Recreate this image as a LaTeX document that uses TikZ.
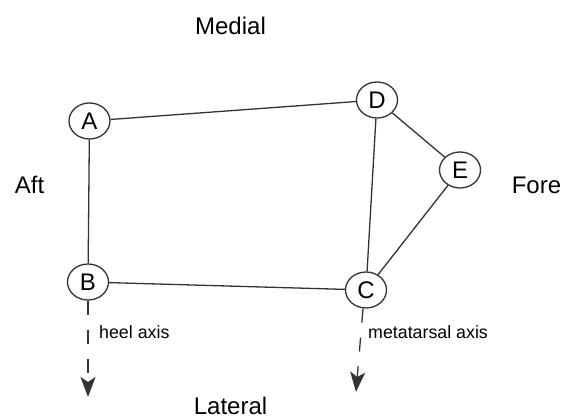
\documentclass[tikz,border=0pt]{standalone}
\usepackage{fontspec}
\setmainfont{Liberation Sans}
\usetikzlibrary{shapes.geometric,arrows.meta}
\definecolor{linegray}{HTML}{333333}
\begin{document}
\begin{tikzpicture}[x=1pt,y=-1pt,
  jointnode/.style={draw=linegray, line width=1.3pt, ellipse, minimum width=41pt, minimum height=36pt, inner sep=0pt, fill=white, font=\fontsize{24}{28}\selectfont},
  edge/.style={draw=linegray, line width=1.3pt},
  axisline/.style={draw=linegray, line width=1.3pt, dash pattern=on 14pt off 15pt, -{Stealth[length=20pt,width=15pt,inset=5pt]}},
  bigtext/.style={inner sep=0pt, anchor=base, font=\fontsize{24}{28}\selectfont},
  smalltext/.style={inner sep=0pt, anchor=base west, font=\fontsize{17.8}{21}\selectfont}]
\useasboundingbox (0,0) rectangle (564,419);
\node[jointnode] (A) at (89.5,121) {A};
\node[jointnode] (B) at (88,282) {B};
\node[jointnode] (C) at (366,290) {C};
\node[jointnode] (D) at (377,100) {D};
\node[jointnode] (E) at (460,170) {E};
\draw[edge] (A) -- (D);
\draw[edge] (A) -- (B);
\draw[edge] (B) -- (C);
\draw[edge] (C) -- (D);
\draw[edge] (D) -- (E);
\draw[edge] (E) -- (C);
\coordinate (tipB) at (88,397);
\coordinate (tipC) at (356,392);
\draw[axisline] (B.south) -- (tipB);
\draw[axisline] (C.south) ++(-3,0) -- (tipC);
\node[bigtext] (medial) at (230.5,35) {Medial};
\node[bigtext] (lateral) at (230.5,414) {Lateral};
\node[bigtext] (aft) at (29.5,194) {Aft};
\node[bigtext] (fore) at (536.5,194) {Fore};
\node[smalltext] (heel) at (99,338) {heel axis};
\node[smalltext] (meta) at (368,338) {metatarsal axis};
\end{tikzpicture}
\end{document}
